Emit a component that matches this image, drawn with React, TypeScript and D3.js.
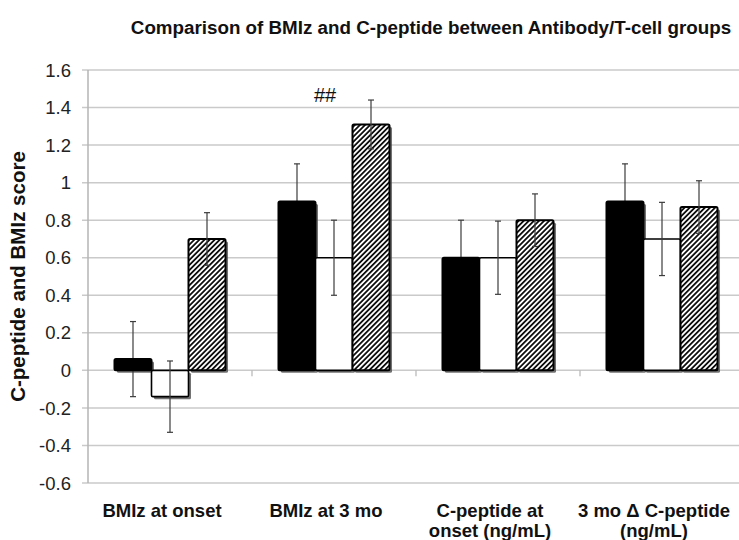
import React from "react";
import * as d3 from "d3";

const categories: string[][] = [
  ["BMIz at onset"],
  ["BMIz at 3 mo"],
  ["C-peptide at", "onset (ng/mL)"],
  ["3 mo \u0394 C-peptide", "(ng/mL)"],
];
const seriesNames = ["black", "white", "hatched"];
const blackValues = [0.06, 0.9, 0.6, 0.9];
const blackErrors = [0.2, 0.2, 0.2, 0.2];
const whiteValues = [-0.14, 0.6, 0.6, 0.7];
const whiteErrors = [0.19, 0.2, 0.195, 0.195];
const hatchedValues = [0.7, 1.31, 0.8, 0.87];
const hatchedErrors = [0.14, 0.13, 0.14, 0.14];
const yTicks = [-0.6, -0.4, -0.2, 0, 0.2, 0.4, 0.6, 0.8, 1, 1.2, 1.4, 1.6];
const annotation = { category: 1, value: 1.43, text: "##" };

const W = 739;
const H = 540;

export default function App() {
  const y = d3.scaleLinear().domain([-0.6, 1.6]).range([483, 70]);
  const x0 = d3
    .scaleBand<number>()
    .domain(categories.map((_, i) => i))
    .range([88, 744])
    .paddingInner(0)
    .paddingOuter(0);
  const x1 = d3
    .scaleBand<string>()
    .domain(seriesNames)
    .range([0, x0.bandwidth()])
    .paddingInner(0)
    .paddingOuter(0.716);

  const series = [
    { name: "black", values: blackValues, errors: blackErrors, fill: "#000" },
    { name: "white", values: whiteValues, errors: whiteErrors, fill: "#fff" },
    { name: "hatched", values: hatchedValues, errors: hatchedErrors, fill: "url(#hatch)" },
  ];

  const fmt = (v: number) => {
    const r = Math.round(v * 10) / 10;
    return r === 0 ? "0" : String(r);
  };

  const font = "'Liberation Sans', Arial, sans-serif";
  const zero = y(0);
  const bw = x1.bandwidth();

  const errorBars = (filter: (name: string) => boolean, keyPrefix: string) =>
    categories.map((_, ci) =>
      series
        .filter((s) => filter(s.name))
        .map((s) => {
          const v = s.values[ci];
          const e = s.errors[ci];
          const cx = x0(ci)! + x1(s.name)! + bw / 2;
          const capW = 3;
          return (
            <g key={keyPrefix + ci + s.name} stroke="#3c3c3c" strokeWidth={1.2}>
              <line x1={cx} x2={cx} y1={y(v + e)} y2={y(v - e)} />
              <line x1={cx - capW} x2={cx + capW} y1={y(v + e)} y2={y(v + e)} />
              <line x1={cx - capW} x2={cx + capW} y1={y(v - e)} y2={y(v - e)} />
            </g>
          );
        })
    );

  return (
    <div style={{ position: "absolute", left: 0, top: 0 }}>
      <svg width={W} height={H} style={{ display: "block", background: "#fff" }} fontFamily={font}>
        <defs>
          <pattern id="hatch" width={3.6} height={3.6} patternUnits="userSpaceOnUse" patternTransform="rotate(45)">
            <rect width={3.6} height={3.6} fill="#fff" />
            <line x1={0.9} y1={0} x2={0.9} y2={3.6} stroke="#000" strokeWidth={1.7} />
          </pattern>
        </defs>

        {/* title */}
        <text x={431} y={34} textAnchor="middle" fontSize={18.8} fontWeight="bold" fill="#111">
          Comparison of BMIz and C-peptide between Antibody/T-cell groups
        </text>

        {/* gridlines */}
        {yTicks.map((t) => (
          <line key={"g" + t} x1={82} x2={744} y1={y(t)} y2={y(t)} stroke="#cacaca" strokeWidth={1.5} />
        ))}
        {/* left axis */}
        <line x1={88} x2={88} y1={y(1.6)} y2={y(-0.6)} stroke="#b5b5b5" strokeWidth={1.5} />
        {/* category ticks at zero line */}
        {categories.map((_, i) =>
          i === 0 ? null : (
            <line key={"ct" + i} x1={x0(i)!} x2={x0(i)!} y1={zero} y2={zero + 6} stroke="#b5b5b5" strokeWidth={1.2} />
          )
        )}

        {/* y tick labels */}
        {yTicks.map((t) => (
          <text key={"yl" + t} x={71} y={y(t)} dy="0.36em" textAnchor="end" fontSize={18.5} fill="#222">
            {fmt(t)}
          </text>
        ))}

        {/* y axis title */}
        <text
          transform={`translate(25, ${y(0.5)}) rotate(-90)`}
          textAnchor="middle"
          fontSize={20.5}
          fontWeight="bold"
          fill="#111"
        >
          C-peptide and BMIz score
        </text>

        {/* bar shadows */}
        {categories.map((_, ci) =>
          series.map((s) => {
            const v = s.values[ci];
            const bx = x0(ci)! + x1(s.name)!;
            const top = Math.min(y(v), zero);
            const h = Math.abs(y(v) - zero);
            return (
              <rect key={"sh" + ci + s.name} x={bx + 2.5} y={top + 2.5} width={bw} height={h} fill="#444" opacity={0.75} rx={1.5} />
            );
          })
        )}

        {/* error bars of the solid series, partly hidden by the bars */}
        {errorBars((n) => n === "black", "eb")}

        {/* bars */}
        {categories.map((_, ci) =>
          series.map((s) => {
            const v = s.values[ci];
            const bx = x0(ci)! + x1(s.name)!;
            const top = Math.min(y(v), zero);
            const h = Math.abs(y(v) - zero);
            return (
              <rect
                key={"b" + ci + s.name}
                x={bx}
                y={top}
                width={bw}
                height={h}
                fill={s.fill}
                stroke="#000"
                strokeWidth={s.name === "white" ? 1.6 : 2}
                rx={1.5}
              />
            );
          })
        )}

        {/* error bars of the other series */}
        {errorBars((n) => n !== "black", "ew")}

        {/* annotation */}
        <text
          x={x0(annotation.category)! + x0.bandwidth() / 2 - 9}
          y={y(annotation.value)}
          textAnchor="middle"
          fontSize={20}
          fill="#111"
        >
          {annotation.text}
        </text>

        {/* category labels */}
        {categories.map((lines, ci) => (
          <text
            key={"cl" + ci}
            x={x0(ci)! + x0.bandwidth() / 2 - 8}
            y={517}
            textAnchor="middle"
            fontSize={18.5}
            fontWeight="bold"
            fill="#111"
          >
            {lines.map((ln, li) => (
              <tspan key={li} x={x0(ci)! + x0.bandwidth() / 2 - 8} dy={li === 0 ? 0 : 20}>
                {ln}
              </tspan>
            ))}
          </text>
        ))}
      </svg>
    </div>
  );
}
